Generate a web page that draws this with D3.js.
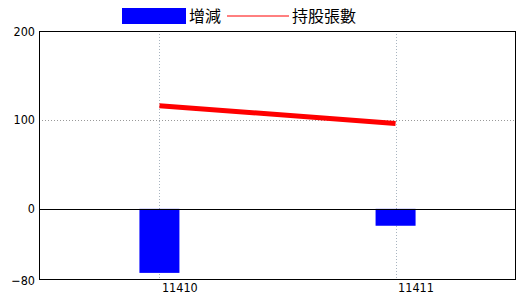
<!DOCTYPE html>
<html>
<head>
<meta charset="utf-8">
<script src="https://cdn.jsdelivr.net/npm/d3@7"></script>
<style>
  body { margin: 0; background: #fff; }
  .tick text { font-family: "Liberation Sans Narrow", "DejaVu Sans Condensed", "Liberation Sans", sans-serif; font-size: 12.5px; }
</style>
</head>
<body>
<div id="chart"></div>
<script>
// chart values
const periods = ['11410', '11411'];
const changeVals = [-72, -19];      // 增減 (bars)
const holdingVals = [116, 96];      // 持股張數 (line)
const yTicks = [200, 100, 0, -80];

const WIDTH = 520;
const HEIGHT = 300;
const MARGINS = {left: 39, right: 4, top: 31, bottom: 20};

const svg = d3.select('#chart')
  .append('svg')
    .attr('width', WIDTH)
    .attr('height', HEIGHT);

const xscale = d3.scalePoint()
  .domain(periods)
  .range([MARGINS.left, WIDTH - MARGINS.right])
  .padding(0.51);

const yscale = d3.scaleLinear()
  .domain([-80, 200])
  .range([HEIGHT - MARGINS.bottom, MARGINS.top]);

// grid lines
svg.append('g')
  .selectAll('line')
  .data(periods)
  .enter()
  .append('line')
    .attr('x1', d => Math.round(xscale(d)) + 0.5)
    .attr('x2', d => Math.round(xscale(d)) + 0.5)
    .attr('y1', MARGINS.top)
    .attr('y2', HEIGHT - MARGINS.bottom)
    .attr('stroke', '#a8b4c0')
    .attr('stroke-dasharray', '1,2');

svg.append('line')
  .attr('x1', MARGINS.left)
  .attr('x2', WIDTH - MARGINS.right)
  .attr('y1', Math.round(yscale(100)) + 0.5)
  .attr('y2', Math.round(yscale(100)) + 0.5)
  .attr('stroke', '#999')
  .attr('stroke-dasharray', '1,2');

// bars
svg.append('g')
  .selectAll('rect')
  .data(changeVals)
  .enter()
  .append('rect')
    .attr('x', (d, i) => xscale(periods[i]) - 20)
    .attr('width', 40)
    .attr('y', d => yscale(Math.max(0, d)))
    .attr('height', d => Math.abs(yscale(d) - yscale(0)))
    .attr('fill', '#0000ff');

// zero line
svg.append('line')
  .attr('x1', MARGINS.left)
  .attr('x2', WIDTH - MARGINS.right)
  .attr('y1', Math.round(yscale(0)) + 0.5)
  .attr('y2', Math.round(yscale(0)) + 0.5)
  .attr('stroke', '#000');

// line series
const line = d3.line()
  .x((d, i) => xscale(periods[i]))
  .y(d => yscale(d));

svg.append('path')
  .datum(holdingVals)
  .attr('d', line)
  .attr('fill', 'none')
  .attr('stroke', '#ff0000')
  .attr('stroke-width', 5);

// frame
svg.append('rect')
  .attr('x', MARGINS.left + 0.5)
  .attr('y', MARGINS.top + 0.5)
  .attr('width', WIDTH - MARGINS.left - MARGINS.right - 1)
  .attr('height', HEIGHT - MARGINS.top - MARGINS.bottom - 1)
  .attr('fill', 'none')
  .attr('stroke', '#000');

// axes
svg.append('g')
  .attr('transform', 'translate(' + MARGINS.left + ',0)')
  .call(d3.axisLeft(yscale).tickValues(yTicks).tickSize(0).tickPadding(4))
  .call(g => g.select('.domain').remove())
  .selectAll('text').attr('fill', '#000');

svg.append('g')
  .attr('transform', 'translate(0,' + (HEIGHT - MARGINS.bottom) + ')')
  .call(d3.axisBottom(xscale).tickSize(0).tickPadding(3))
  .call(g => g.select('.domain').remove())
  .selectAll('text')
    .attr('fill', '#000')
    .attr('text-anchor', 'start')
    .attr('x', 2);

// legend
const legend = svg.append('g')
  .style('font-family', '"Noto Sans CJK TC", sans-serif')
  .style('font-size', '16px');

legend.append('rect')
  .attr('x', 122).attr('y', 8)
  .attr('width', 64).attr('height', 16)
  .attr('fill', '#0000ff');
legend.append('text')
  .attr('x', 189).attr('y', 22)
  .text('增減');
legend.append('line')
  .attr('x1', 227).attr('x2', 289)
  .attr('y1', 16).attr('y2', 16)
  .attr('stroke', '#ff0000');
legend.append('text')
  .attr('x', 292).attr('y', 22)
  .text('持股張數');
</script>
</body>
</html>
